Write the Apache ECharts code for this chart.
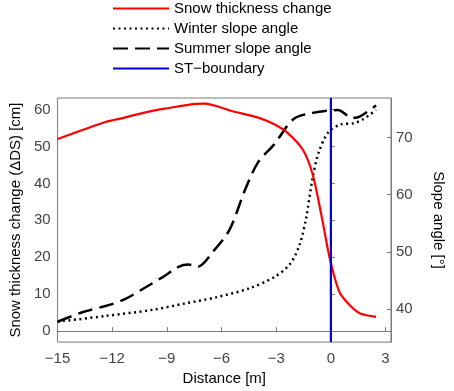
<!DOCTYPE html>
<html><head><meta charset="utf-8">
<script src="https://cdn.jsdelivr.net/npm/echarts@6/dist/echarts.min.js"></script>
<style>html,body{margin:0;padding:0;background:#fff}#c{width:454px;height:391px}</style>
</head><body><div id="c"></div>
<script>
const xTicks = [-15, -12, -9, -6, -3, 0, 3];
const leftTicks = [0, 10, 20, 30, 40, 50, 60];
const rightTicks = [40, 50, 60, 70];

const snowDist = [-15, -13.6, -12.38, -11.33, -9.93, -8.88, -7.48, -6.96, -5.39, -3.99, -3.11, -2.41, -1.54, -1.01, -0.49, -0.05, 0.47, 1.08, 1.61, 2.48];
const snowChange = [52.0, 54.5, 56.6, 57.8, 59.5, 60.4, 61.5, 61.6, 59.5, 57.8, 56.0, 53.8, 49.1, 42.6, 30.6, 19.5, 10.6, 6.8, 4.8, 3.9];

const winterDist = [-15, -12.38, -9.76, -8.0, -6.26, -4.51, -3.11, -2.24, -1.71, -1.36, -1.01, -0.67, -0.14, 0.56, 1.26, 1.78, 2.48];
const winterAngle = [37.8, 38.8, 39.9, 41.0, 42.1, 43.6, 45.6, 47.9, 51.3, 55.9, 62.8, 67.4, 70.9, 72.3, 72.5, 73.2, 74.8];

const summerDist = [-15, -13.6, -12.2, -11.33, -10.28, -9.23, -8.36, -7.83, -7.31, -6.43, -5.56, -4.68, -3.99, -3.11, -2.06, -1.01, 0.39, 1.17, 1.61, 2.48];
const summerAngle = [37.8, 39.5, 40.7, 41.7, 43.6, 45.6, 47.4, 47.8, 47.4, 50.2, 53.9, 61.1, 65.7, 68.8, 73.2, 74.3, 74.8, 73.4, 73.7, 75.6];

const boundaryDist = [0, 0];
const boundaryVal = [-2.94, 63.1];

const zip = (a, b) => a.map((v, i) => [v, b[i]]);
const axisCol = '#7a7a7a', labCol = '#444';
const font = 'Liberation Sans, Arial, sans-serif';

const chart = echarts.init(document.getElementById('c'), null, {renderer: 'canvas'});
chart.setOption({
  animation: false,
  backgroundColor: '#fff',
  textStyle: {fontFamily: font},
  grid: {left: 50, top: 98, right: 55, bottom: 45, show: true, borderColor: axisCol, borderWidth: 1},
  legend: {
    orient: 'vertical', left: 107, top: -4, itemWidth: 56, itemHeight: 14, itemGap: 5,
    itemStyle: {opacity: 0},
    textStyle: {fontSize: 15, color: '#000', fontFamily: font},
    data: ['Snow thickness change', 'Winter slope angle', 'Summer slope angle', 'ST\u2212boundary']
  },
  xAxis: {
    type: 'value', min: -15, max: 3.3,
    name: 'Distance [m]', nameLocation: 'middle', nameGap: 27,
    nameTextStyle: {fontSize: 15, color: '#000'},
    axisLine: {lineStyle: {color: axisCol}},
    axisTick: {inside: true, length: 4, lineStyle: {color: axisCol}, customValues: xTicks},
    axisLabel: {fontSize: 15, color: labCol, margin: 9, customValues: xTicks,
      formatter: v => String(v).replace('-', '\u2212')},
    splitLine: {show: false}
  },
  yAxis: [{
    type: 'value', min: -2.94, max: 63.1, position: 'left',
    name: 'Snow thickness change (\u0394DS) [cm]', nameLocation: 'middle', nameGap: 34,
    nameTextStyle: {fontSize: 15, color: '#000'},
    axisLine: {show: true, lineStyle: {color: axisCol}},
    axisTick: {show: true, inside: true, length: 4, lineStyle: {color: axisCol}, customValues: leftTicks},
    axisLabel: {fontSize: 15, color: labCol, margin: 7, customValues: leftTicks},
    splitLine: {show: false}
  }, {
    type: 'value', min: 34.24, max: 76.9, position: 'right',
    name: 'Slope angle [\u00b0]', nameLocation: 'middle', nameGap: 40, nameRotate: -90,
    nameTextStyle: {fontSize: 15, color: '#000'},
    axisLine: {show: true, lineStyle: {color: axisCol}},
    axisTick: {show: true, inside: true, length: 4, lineStyle: {color: axisCol}, customValues: rightTicks},
    axisLabel: {fontSize: 15, color: labCol, margin: 5, customValues: rightTicks},
    splitLine: {show: false}
  }],
  series: [{
    name: 'Snow thickness change', type: 'line', yAxisIndex: 0, symbol: 'none', smooth: 0.3,
    data: zip(snowDist, snowChange), itemStyle: {color: '#ff0000'},
    lineStyle: {color: '#ff0000', width: 2.2}, z: 3
  }, {
    name: 'Winter slope angle', type: 'line', yAxisIndex: 1, symbol: 'none', smooth: 0.3,
    data: zip(winterDist, winterAngle), itemStyle: {color: '#000'},
    lineStyle: {color: '#000', width: 2.5, type: [2, 3.5]}, z: 2
  }, {
    name: 'Summer slope angle', type: 'line', yAxisIndex: 1, symbol: 'none', smooth: 0.3,
    data: zip(summerDist, summerAngle), itemStyle: {color: '#000'},
    lineStyle: {color: '#000', width: 2.5, type: [15, 7]}, z: 2
  }, {
    name: 'ST\u2212boundary', type: 'line', yAxisIndex: 0, symbol: 'none',
    data: zip(boundaryDist, boundaryVal), itemStyle: {color: '#0000dd'},
    lineStyle: {color: '#0000dd', width: 2.2}, z: 4
  }]
});
</script></body></html>
